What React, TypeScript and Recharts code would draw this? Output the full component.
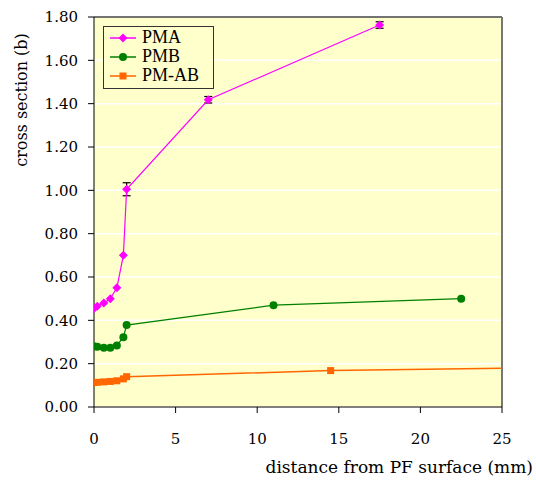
import { LineChart, Line, XAxis, YAxis, CartesianGrid, ErrorBar, ReferenceLine, Label } from 'recharts';

const pmaX = [0, 0.2, 0.6, 1.0, 1.4, 1.8, 2.0, 7, 17.5];
const pmaY = [0.455, 0.465, 0.48, 0.5, 0.55, 0.7, 1.005, 1.418, 1.763];
const pmaErr = [null, null, null, null, null, null, 0.03, 0.015, 0.015];

const pmbX = [0, 0.2, 0.6, 1.0, 1.4, 1.8, 2.0, 11, 22.5];
const pmbY = [0.28, 0.278, 0.274, 0.274, 0.284, 0.322, 0.378, 0.47, 0.5];

const pmabX = [0, 0.2, 0.6, 1.0, 1.4, 1.8, 2.0, 14.5, 30];
const pmabY = [0.113, 0.114, 0.116, 0.118, 0.121, 0.13, 0.14, 0.168, 0.184];

const xTicks = [0, 5, 10, 15, 20, 25];
const yTicks = [0, 0.2, 0.4, 0.6, 0.8, 1.0, 1.2, 1.4, 1.6, 1.8];

const pmaData = pmaX.map((x, i) => ({ x, y: pmaY[i], err: pmaErr[i] ?? undefined }));
const pmbData = pmbX.map((x, i) => ({ x, y: pmbY[i] }));
const pmabData = pmabX.map((x, i) => ({ x, y: pmabY[i] }));

const MAGENTA = '#ff00ff';
const GREEN = '#008000';
const ORANGE = '#ff6600';
const SERIF = '"DejaVu Serif", "Liberation Serif", serif';

function Diamond(props: any) {
  const { cx, cy } = props;
  if (cx == null || cy == null) return null;
  return <path d={`M${cx},${cy - 4.5}L${cx + 4.5},${cy}L${cx},${cy + 4.5}L${cx - 4.5},${cy}Z`} fill={MAGENTA} />;
}

function Dot(props: any) {
  const { cx, cy } = props;
  if (cx == null || cy == null) return null;
  return <circle cx={cx} cy={cy} r={4} fill={GREEN} />;
}

function Square(props: any) {
  const { cx, cy } = props;
  if (cx == null || cy == null) return null;
  return <rect x={cx - 3.5} y={cy - 3.5} width={7} height={7} fill={ORANGE} />;
}

const legendItems = [
  { name: 'PMA', color: MAGENTA, Marker: Diamond },
  { name: 'PMB', color: GREEN, Marker: Dot },
  { name: 'PM-AB', color: ORANGE, Marker: Square },
];

// legend drawn as an overlay so it doesn't take space from the plot
function LegendBox() {
  return (
    <div
      style={{
        position: 'absolute', left: 103, top: 26, width: 99, height: 59,
        border: '1px solid #333', background: '#ffffcc', padding: '1px 4px 1px 6px',
      }}
    >
      {legendItems.map(({ name, color, Marker }) => (
        <div key={name} style={{ display: 'flex', alignItems: 'center', height: 19, whiteSpace: 'nowrap' }}>
          <svg width={28} height={12} style={{ flexShrink: 0 }}>
            <line x1={0} y1={6} x2={26} y2={6} stroke={color} strokeWidth={1.5} />
            <Marker cx={13} cy={6} />
          </svg>
          <span style={{ fontFamily: '"Liberation Serif", "Times New Roman", serif', fontSize: 18, color: '#000', marginLeft: 4, lineHeight: '19px' }}>{name}</span>
        </div>
      ))}
    </div>
  );
}

export default function App() {
  return (
    <div style={{ position: 'absolute', left: 0, top: 0, width: 536, height: 480, background: '#fff' }}>
      <LineChart width={536} height={480} margin={{ top: 17, right: 34, bottom: 0, left: 0 }}>
        <CartesianGrid vertical={false} stroke="#ffffff" strokeWidth={1.5} fill="#ffffcc" fillOpacity={1} />
        <XAxis
          type="number"
          dataKey="x"
          domain={[0, 25]}
          ticks={xTicks}
          allowDataOverflow
          stroke="#000"
          tickSize={6}
          tickMargin={20}
          tick={{ fill: '#000', fontFamily: SERIF, fontSize: 15 }}
          height={73}
        >
          <Label
            content={() => (
              <text x={533} y={473} textAnchor="end" fontFamily={SERIF} fontSize={17} fill="#000">
                distance from PF surface (mm)
              </text>
            )}
          />
        </XAxis>
        <YAxis
          type="number"
          domain={[0, 1.8]}
          ticks={yTicks}
          allowDataOverflow
          stroke="#000"
          tickSize={6}
          tickMargin={10}
          tickFormatter={(v: number) => v.toFixed(2)}
          tick={{ fill: '#000', fontFamily: SERIF, fontSize: 15 }}
          width={94}
        >
          <Label
            content={() => (
              <text x={27} y={100} textAnchor="middle" transform="rotate(-90 27 100)" fontFamily={SERIF} fontSize={16} fill="#000">
                cross section (b)
              </text>
            )}
          />
        </YAxis>
        <ReferenceLine y={1.8} stroke="#444" strokeWidth={1.5} />
        <ReferenceLine x={25} stroke="#777" strokeWidth={2} />
        <Line data={pmabData} dataKey="y" name="PM-AB" stroke={ORANGE} strokeWidth={1.5} dot={<Square />} isAnimationActive={false} />
        <Line data={pmbData} dataKey="y" name="PMB" stroke={GREEN} strokeWidth={1.2} dot={<Dot />} isAnimationActive={false} />
        <Line data={pmaData} dataKey="y" name="PMA" stroke={MAGENTA} strokeWidth={1.2} dot={<Diamond />} isAnimationActive={false}>
          <ErrorBar dataKey="err" direction="y" width={4} stroke="#000" strokeWidth={1.2} />
        </Line>
      </LineChart>
      <LegendBox />
    </div>
  );
}
